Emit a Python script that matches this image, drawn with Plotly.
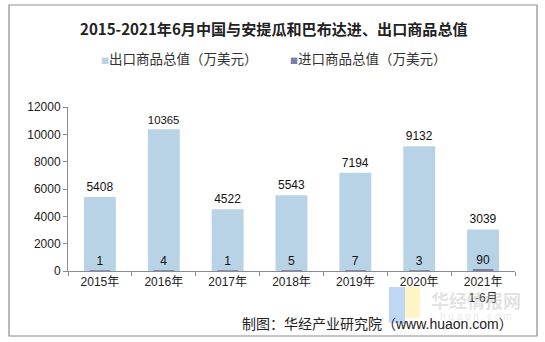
import plotly.graph_objects as go

# Years and trade values (10k USD)
years = ["2015年", "2016年", "2017年", "2018年", "2019年", "2020年", "2021年<br>1-6月"]
exports = [5408, 10365, 4522, 5543, 7194, 9132, 3039]
imports = [1, 4, 1, 5, 7, 3, 90]
y_ticks = [0, 2000, 4000, 6000, 8000, 10000, 12000]

EXPORT_COLOR = "#B8D3E5"
IMPORT_COLOR = "#7C80A8"
CJK = "Noto Sans CJK SC"
LATIN = "Arial, Liberation Sans, sans-serif"
MIXED = "Arial, Liberation Sans, Noto Sans CJK SC, sans-serif"

# plot area in pixels: x 68..515, y 107..271
PX_L, PX_W, PX_B, PX_H = 68, 447, 271, 164


def px(x):
    return (x - PX_L) / PX_W


def py(y):
    return (PX_B - y) / PX_H


fig = go.Figure()

fig.add_trace(go.Bar(
    x=years, y=exports, name="出口商品总值（万美元）",
    marker=dict(color=EXPORT_COLOR, line=dict(width=0)),
    width=0.5,
    text=[str(v) for v in exports], textposition="outside",
    textfont=dict(family=LATIN, size=12, color="#111111"),
    cliponaxis=False,
))
fig.add_trace(go.Bar(
    x=years, y=imports, name="进口商品总值（万美元）",
    marker=dict(color=IMPORT_COLOR, line=dict(width=1.5, color=IMPORT_COLOR)),
    width=0.3,
    text=[str(v) for v in imports], textposition="outside",
    textfont=dict(family=LATIN, size=12, color="#111111"),
    cliponaxis=False,
))

annotations = [
    dict(text="<b>2015-2021年6月中国与安提瓜和巴布达进、出口商品总值</b>",
         xref="paper", yref="paper", x=px(273.5), y=py(28),
         showarrow=False, xanchor="center", yanchor="middle",
         font=dict(family=CJK, size=15.1, color="#222222")),
    dict(text=f"<span style='color:{EXPORT_COLOR};font-size:8px'>■</span>出口商品总值（万美元）",
         xref="paper", yref="paper", x=px(99), y=py(58),
         showarrow=False, xanchor="left", yanchor="middle",
         font=dict(family=CJK, size=13.5, color="#333333")),
    dict(text=f"<span style='color:{IMPORT_COLOR};font-size:8px'>■</span>进口商品总值（万美元）",
         xref="paper", yref="paper", x=px(288), y=py(58),
         showarrow=False, xanchor="left", yanchor="middle",
         font=dict(family=CJK, size=13.5, color="#333333")),
    dict(text="制图：华经产业研究院（www.huaon.com）",
         xref="paper", yref="paper", x=px(515), y=py(324),
         showarrow=False, xanchor="right", yanchor="middle",
         font=dict(family=MIXED, size=14, color="#222222")),
    dict(text="<b>华经情报网</b>",
         xref="paper", yref="paper", x=px(476), y=py(300),
         showarrow=False, xanchor="center", yanchor="middle",
         font=dict(family=CJK, size=18, color="rgba(190,190,190,0.45)")),
    dict(text="h u a o n . c o m",
         xref="paper", yref="paper", x=px(476), y=py(316),
         showarrow=False, xanchor="center", yanchor="middle",
         font=dict(family=LATIN, size=10, color="rgba(200,200,200,0.45)")),
]

shapes = [
    # outer frame around the whole chart
    dict(type="rect", xref="paper", yref="paper",
         x0=px(9), x1=px(537), y0=py(336), y1=py(5),
         line=dict(color="#8C8C8C", width=1.2), fillcolor="rgba(0,0,0,0)", layer="below"),
    # logo blocks of the watermark
    dict(type="rect", xref="paper", yref="paper",
         x0=px(389), x1=px(405), y0=py(323), y1=py(287),
         line=dict(width=0), fillcolor="rgba(150,190,240,0.6)", layer="below"),
    dict(type="rect", xref="paper", yref="paper",
         x0=px(405), x1=px(420), y0=py(318), y1=py(287),
         line=dict(width=0), fillcolor="rgba(255,236,160,0.6)", layer="below"),
]

fig.update_layout(
    width=545, height=342,
    margin=dict(l=68, r=30, t=107, b=71),
    paper_bgcolor="white", plot_bgcolor="white",
    barmode="overlay",
    showlegend=False,
    annotations=annotations,
    shapes=shapes,
)
fig.update_xaxes(
    showline=True, linecolor="#8C8C8C", linewidth=1,
    ticks="outside", tickson="boundaries", ticklen=4, tickcolor="#8C8C8C",
    tickfont=dict(family=MIXED, size=12, color="#222222"),
    showgrid=False,
)
fig.update_yaxes(
    range=[0, 12000], tickvals=y_ticks, tickformat="d",
    showline=True, linecolor="#8C8C8C", linewidth=1,
    ticks="outside", ticklen=4, tickcolor="#8C8C8C",
    tickfont=dict(family=LATIN, size=12, color="#222222"),
    showgrid=False, zeroline=False,
)

fig.write_html("out.html")
